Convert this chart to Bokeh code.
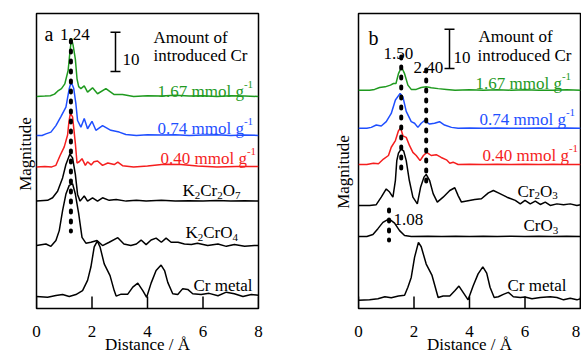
import math
from bokeh.plotting import figure
from bokeh.models import Range1d
from bokeh.layouts import row
from bokeh.core.properties import value
from bokeh.embed import file_html
from bokeh.resources import INLINE

# ---------------- data (panel a) ----------------
A_GREEN_X = [0, 0.3, 0.5, 0.65, 0.76, 0.9, 1.02, 1.14, 1.2, 1.26, 1.32, 1.40, 1.46, 1.52, 1.6, 1.72, 1.84, 2.02, 2.2, 2.5, 2.8, 3.1, 3.5, 4.0, 4.5, 5.0, 5.5, 6.0, 6.5, 7.0, 7.5, 8.0]
A_GREEN_Y = [0, 0.1, 0.2, 0.6, 1.35, 2.0, 3.2, 6.6, 11.0, 14.8, 13.0, 9.5, 4.5, 2.5, 2.0, 2.7, 1.1, 2.2, 0.7, 2.0, 0.5, 0.5, 0, 0.2, 0.1, 0.3, 0.1, 0.2, 0, 0.2, 0.1, 0]

A_BLUE_X = [0, 0.2, 0.34, 0.52, 0.70, 0.88, 1.06, 1.18, 1.25, 1.34, 1.42, 1.48, 1.6, 1.72, 1.84, 2.0, 2.14, 2.38, 2.68, 2.98, 3.22, 3.6, 4.0, 4.5, 5.0, 5.5, 6.0, 6.5, 7.0, 7.5, 8.0]
A_BLUE_Y = [0, 0, 0.4, 0.85, 2.5, 4.8, 7.2, 11.9, 13.6, 12.0, 8.0, 3.8, 2.1, 4.3, 1.7, 3.6, 1.3, 2.5, 1.3, 0.85, 0.25, 0, 0.2, 0.1, 0.2, 0, 0.1, 0.2, 0, 0.1, 0]

A_RED_X = [0, 0.3, 0.55, 0.7, 0.85, 1.0, 1.12, 1.17, 1.22, 1.30, 1.40, 1.46, 1.54, 1.64, 1.76, 1.84, 1.97, 2.07, 2.2, 2.38, 2.57, 2.8, 2.93, 3.1, 3.5, 4.0, 4.6, 5.2, 5.8, 6.5, 7.2, 8.0]
A_RED_Y = [0, 0.1, 0, 0.4, 2.9, 5.1, 8.1, 11.5, 13.6, 12.7, 6.0, 1.0, 1.3, 2.1, 0.4, 1.3, 0.5, 1.3, 1.5, 0.4, 1.0, 0.6, 1.2, 0.3, 0, 0.2, 0.7, 0.6, 0.2, 0, 0.1, 0.1]

A_K2CR2O7_X = [0, 0.4, 0.58, 0.76, 0.94, 1.06, 1.2, 1.30, 1.40, 1.48, 1.57, 1.72, 1.84, 2.02, 2.2, 2.38, 2.62, 2.87, 3.23, 3.6, 3.95, 4.5, 5.0, 5.5, 6.0, 6.5, 7.0, 7.5, 8.0]
A_K2CR2O7_Y = [0, 0.2, 0.85, 2.5, 5.9, 9.3, 11.9, 11.0, 6.8, 1.7, 0, 1.3, 0, 0.85, 0, 0.85, 0.2, 0.4, 0, 0.25, 0, 0.2, 0, 0.1, 0, 0.15, 0, 0.1, 0]

A_K2CRO4_X = [0, 0.34, 0.52, 0.70, 0.82, 0.94, 1.06, 1.18, 1.30, 1.40, 1.52, 1.64, 1.78, 1.96, 2.18, 2.38, 2.62, 2.93, 3.15, 3.4, 3.6, 3.77, 3.95, 4.13, 4.31, 4.5, 4.67, 4.85, 5.1, 5.33, 5.58, 5.8, 6.17, 6.54, 6.84, 7.13, 7.5, 7.85, 8.0]
A_K2CRO4_Y = [0, 0.4, -0.2, 1.3, 3.8, 8.9, 13.1, 15.3, 15.7, 13.1, 8.1, 2.1, 0.6, 0.85, 1.3, 0, 0.85, 2.0, 0.4, 0, 0.4, 1.4, 0.25, 1.4, 1.9, 0.85, 1.9, 0.85, 0.85, 0.4, 0.25, 0.6, 0, 0.4, -0.2, 0.25, -0.2, 0, 0]

A_CRMETAL_X = [0, 0.4, 0.7, 0.94, 1.18, 1.42, 1.66, 1.84, 1.96, 2.08, 2.19, 2.29, 2.44, 2.65, 2.80, 2.87, 3.05, 3.29, 3.47, 3.65, 3.83, 3.97, 4.13, 4.31, 4.49, 4.62, 4.73, 4.91, 5.09, 5.27, 5.45, 5.63, 5.93, 6.22, 6.54, 6.84, 7.13, 7.44, 7.74, 8.0]
A_CRMETAL_Y = [0, -0.2, 0.25, 0.5, 0, 0.5, 1.5, 4.1, 7.5, 12.6, 14.1, 12.6, 8.3, 5.3, 1.5, 0.1, 0.6, 0.6, 2.4, 3.4, 1.5, -0.2, 3.4, 6.6, 8.0, 6.5, 3.6, 0.7, 0.5, 2.0, 1.8, 0.7, 0.5, 0.8, 0.2, 1.1, 0.7, 0, 0.5, 0.3]

A_OFFSETS = [53.9, 44.0, 36.0, 27.3, 16.0, 3.05]

# ---------------- data (panel b) ----------------
B_GREEN_X = [0, 0.4, 0.58, 0.76, 0.96, 1.15, 1.26, 1.35, 1.44, 1.55, 1.66, 1.78, 1.9, 2.08, 2.26, 2.44, 2.62, 2.87, 3.17, 3.48, 4.0, 4.5, 5.0, 5.5, 6.0, 6.5, 7.0, 7.5, 8.0]
B_GREEN_Y = [0, 0, 0.2, 0.7, 0.85, 1.3, 1.7, 1.7, 4.2, 5.9, 4.2, 1.3, 0.2, 0.2, 0.7, 0.85, 0.6, 0.4, 0.2, 0, 0.1, 0, 0.1, 0, 0.1, 0, 0, 0.1, 0]

B_BLUE_X = [0, 0.3, 0.46, 0.64, 0.82, 1.0, 1.18, 1.33, 1.50, 1.60, 1.72, 1.9, 2.02, 2.14, 2.26, 2.38, 2.56, 2.74, 2.92, 3.1, 3.35, 3.59, 4.0, 4.5, 5.0, 5.5, 6.0, 6.5, 7.0, 7.5, 8.0]
B_BLUE_Y = [0, 0, 0.25, 0.85, 0.6, 1.7, 3.8, 7.2, 8.9, 8.0, 4.3, 1.7, 1.3, 0.25, 1.3, 2.0, 1.1, 1.3, 1.7, 0.85, 0.25, 0, 0.1, 0, 0.1, 0, 0.05, 0.1, 0, 0.1, 0]

B_RED_X = [0, 0.3, 0.54, 0.72, 0.9, 1.08, 1.18, 1.33, 1.44, 1.52, 1.60, 1.72, 1.84, 1.96, 2.08, 2.22, 2.34, 2.46, 2.62, 2.8, 2.98, 3.17, 3.29, 3.41, 3.59, 4.0, 4.5, 5.0, 5.5, 6.0, 6.5, 7.0, 7.5, 8.0]
B_RED_Y = [0, 0, 0.35, 0.2, 1.4, 2.3, 4.4, 6.1, 8.6, 9.3, 7.3, 6.9, 4.8, 3.1, 2.3, 1.0, 2.3, 3.1, 2.3, 2.5, 1.8, 1.2, 0.35, 0.6, 0, 0.1, 0, 0.1, 0, 0.1, 0, 0.1, 0, 0]

B_CR2O3_X = [0, 0.4, 0.64, 0.82, 1.0, 1.12, 1.24, 1.33, 1.38, 1.44, 1.54, 1.63, 1.72, 1.83, 1.96, 2.12, 2.24, 2.36, 2.44, 2.56, 2.69, 2.84, 3.05, 3.29, 3.47, 3.59, 3.71, 3.95, 4.19, 4.43, 4.68, 4.86, 5.04, 5.35, 5.65, 5.83, 6.0, 6.19, 6.37, 6.55, 6.73, 6.91, 7.15, 7.39, 7.63, 7.87, 8.0]
B_CR2O3_Y = [0, 0, 0.2, 2.1, 4.2, 3.4, 2.1, 6.4, 11.4, 13.3, 14.4, 13.8, 11.4, 6.4, 2.1, 0.4, 4.7, 7.2, 7.9, 6.4, 3.0, 0.85, 2.1, 3.8, 4.5, 2.5, 0.85, 1.2, 1.5, 1.7, 3.2, 3.8, 3.2, 2.1, 1.3, 0.4, 1.3, 0.4, 1.1, 0.25, 0.85, 0, 0.4, 0.2, 0.4, 0, 0.2]

B_CRO3_X = [0, 0.3, 0.52, 0.7, 0.88, 1.1, 1.3, 1.48, 1.66, 1.9, 2.5, 3.0, 3.5, 4.0, 4.5, 5.0, 5.5, 6.0, 6.5, 7.0, 7.5, 8.0]
B_CRO3_Y = [0, 0, 0.5, 2.0, 3.6, 4.5, 3.4, 1.5, 0.25, 0, 0.1, 0, 0.1, 0, 0.1, 0, 0.05, 0, 0.1, 0, 0.05, 0]

B_CRMETAL_X = [0, 0.4, 0.7, 0.95, 1.18, 1.44, 1.66, 1.78, 1.9, 2.02, 2.16, 2.26, 2.44, 2.65, 2.87, 3.05, 3.29, 3.47, 3.62, 3.8, 3.95, 4.13, 4.31, 4.48, 4.62, 4.74, 4.89, 5.04, 5.22, 5.4, 5.58, 5.83, 6.0, 6.25, 6.55, 6.91, 7.15, 7.39, 7.63, 7.87, 8.0]
B_CRMETAL_Y = [-0.4, -0.3, 0, 0.5, 0.25, 0.7, 0.85, 2.9, 5.4, 10.5, 14.3, 13.2, 8.8, 5.9, 0.3, 0.7, 0.7, 2.0, 3.2, 1.3, -0.3, 3.2, 6.3, 8.1, 6.5, 2.9, 0.3, 0.5, 1.1, 1.6, 0.5, 0.3, 0.4, 0, 0.3, 0.5, 0.3, -0.3, 0.1, -0.3, 0]

B_OFFSETS = [55.5, 45.8, 36.6, 26.2, 18.3, 2.5]

X_TICKS = [0, 2, 4, 6, 8]
X_TICK_LABELS = ["0", "2", "4", "6", "8"]
X_LABEL = "Distance / Å"
Y_LABEL = "Magnitude"
A_PEAK = [1.24]
B_PEAKS = [1.54, 2.44, 1.10]
B_PEAK_LABELS = ["1.50", "2.40", "1.08"]
AMOUNT_LABELS = ["1.67 mmol g", "0.74 mmol g", "0.40 mmol g"]

# ---------------- style ----------------
FONT = "Liberation Serif"
GREEN, BLUE, RED = "#1f9a1f", "#1f4fff", "#f51e1e"
COLORS = [GREEN, BLUE, RED, "black", "black", "black"]
XMAX, YMAX = 8.0, 75.0
TOP = 13
FRAME_W = 222
FRAME_H = 295
FIG_H = 354
PX_X = FRAME_W / XMAX
PX_Y = FRAME_H / YMAX
FS = 17
SMALL = 11

CW = {'0': .5, '1': .5, '2': .5, '3': .5, '4': .5, '5': .5, '6': .5, '7': .5, '8': .5, '9': .5,
      '.': .25, ' ': .25, 'm': .778, 'o': .5, 'l': .278, 'g': .5, 'K': .722, 'C': .667, 'r': .333,
      'O': .722, '-': .333, 'e': .444, 't': .278, 'a': .444}


def tw(s, size):
    return sum(CW.get(c, .5) for c in s) * size


def txt(p, x, y, s, color="black", fs=FS, align="left", angle=0.0):
    p.text(x=[x], y=[y], text=[s], text_font=value(FONT), text_font_size=value(f"{fs}px"),
           text_color=color, text_align=align, text_baseline="alphabetic", angle=angle,
           level="annotation")


def rich(p, x, y, parts, color="black", fs0=FS):
    cx = x
    for s, kind in parts:
        if kind == "n":
            fs, off = fs0, 0
        elif kind == "sub":
            fs, off = SMALL, -4.5
        else:
            fs, off = SMALL, 7
        txt(p, cx, y + off / PX_Y, s, color, fs)
        cx += tw(s, fs) / PX_X


def dy(py):
    return (TOP + FRAME_H - py) / PX_Y


def make_fig(width, bl, ylab_px, ylab_center_py, last_tick_shift):
    p = figure(width=width, height=FIG_H, output_backend="svg", toolbar_location=None,
               x_range=Range1d(0, XMAX), y_range=Range1d(0, YMAX),
               min_border_left=bl, min_border_right=width - bl - FRAME_W, min_border_top=TOP,
               min_border_bottom=FIG_H - TOP - FRAME_H)
    p.title = None
    p.xaxis.visible = False
    p.yaxis.visible = False
    p.background_fill_color = "white"
    p.border_fill_color = "white"
    p.outline_line_color = "black"
    p.outline_line_width = 1.5
    p.xgrid.grid_line_color = None
    p.ygrid.grid_line_color = None
    tick_len = 12 / PX_Y
    p.segment(x0=X_TICKS, y0=[0] * len(X_TICKS), x1=X_TICKS, y1=[tick_len] * len(X_TICKS),
              line_color="black", line_width=1.5)
    for i, (t, lab) in enumerate(zip(X_TICKS, X_TICK_LABELS)):
        shift = last_tick_shift if i == len(X_TICKS) - 1 else 0
        txt(p, t + shift / PX_X, dy(331), lab, align="center")
    txt(p, XMAX / 2, dy(343.5), X_LABEL, align="center")
    txt(p, ylab_px / PX_X, dy(ylab_center_py), Y_LABEL, align="center", angle=math.pi / 2)
    return p


def draw_curves(p, xs, ys, offsets):
    for x, y, off, c in zip(xs, ys, offsets, COLORS):
        p.line(x, [v + off for v in y], line_color=c, line_width=1.5)


def dotted(p, x, y0, y1):
    p.line([x, x], [y0, y1], line_color="black", line_width=4, line_dash="2 8", line_cap="round")


def scale_bar(p, x, y_bottom, length):
    cap = 5 / PX_X
    p.segment(x0=[x, x - cap, x - cap], y0=[y_bottom, y_bottom, y_bottom + length],
              x1=[x, x + cap, x + cap], y1=[y_bottom + length, y_bottom, y_bottom + length],
              line_color="black", line_width=1.5)


def dx(px, left):
    return (px - left) / PX_X


# ---------------- panel a ----------------
LA = 36
pa = make_fig(290, LA, 25 - LA, 153.5, 0)
draw_curves(pa, [A_GREEN_X, A_BLUE_X, A_RED_X, A_K2CR2O7_X, A_K2CRO4_X, A_CRMETAL_X],
            [A_GREEN_Y, A_BLUE_Y, A_RED_Y, A_K2CR2O7_Y, A_K2CRO4_Y, A_CRMETAL_Y], A_OFFSETS)
dotted(pa, A_PEAK[0], dy(40), dy(231))
scale_bar(pa, dx(115, LA), dy(71), 10)
rich(pa, dx(44, LA), dy(33.5), [("a", "n")], fs0=20)
rich(pa, dx(59.5, LA), dy(34), [("1.24", "n")])
rich(pa, dx(122, LA), dy(59), [("10", "n")])
rich(pa, dx(153, LA), dy(36.5), [("Amount of", "n")])
rich(pa, dx(153, LA), dy(54.5), [("introduced Cr", "n")])
for lab, px, py, c in zip(AMOUNT_LABELS, [157, 157, 160], [90.5, 128, 158], [GREEN, BLUE, RED]):
    rich(pa, dx(px, LA), dy(py), [(lab, "n"), ("-1", "sup")], c)
rich(pa, dx(182, LA), dy(190), [("K", "n"), ("2", "sub"), ("Cr", "n"), ("2", "sub"), ("O", "n"), ("7", "sub")])
rich(pa, dx(185, LA), dy(232), [("K", "n"), ("2", "sub"), ("CrO", "n"), ("4", "sub")])
rich(pa, dx(193, LA), dy(285), [("Cr metal", "n")])

# ---------------- panel b ----------------
LB = 68
OB = 290
pb = make_fig(291, LB, 343 - OB - LB, 171.5, -4.5)
draw_curves(pb, [B_GREEN_X, B_BLUE_X, B_RED_X, B_CR2O3_X, B_CRO3_X, B_CRMETAL_X],
            [B_GREEN_Y, B_BLUE_Y, B_RED_Y, B_CR2O3_Y, B_CRO3_Y, B_CRMETAL_Y], B_OFFSETS)
L = OB + LB
dotted(pb, B_PEAKS[0], dy(56), dy(170))
dotted(pb, B_PEAKS[1], dy(69), dy(183))
dotted(pb, B_PEAKS[2], dy(209), dy(240))
scale_bar(pb, dx(449, L), dy(68), 10)
rich(pb, dx(368, L), dy(37.5), [("b", "n")], fs0=20)
rich(pb, dx(383, L), dy(53), [(B_PEAK_LABELS[0], "n")])
rich(pb, dx(413, L), dy(67), [(B_PEAK_LABELS[1], "n")])
rich(pb, dx(393, L), dy(219), [(B_PEAK_LABELS[2], "n")])
rich(pb, dx(453, L), dy(57), [("10", "n")])
rich(pb, dx(478, L), dy(36), [("Amount of", "n")])
rich(pb, dx(477, L), dy(54.5), [("introduced Cr", "n")])
for lab, px, py, c in zip(AMOUNT_LABELS, [475, 479, 482], [83, 118.5, 155], [GREEN, BLUE, RED]):
    rich(pb, dx(px, L), dy(py), [(lab, "n"), ("-1", "sup")], c)
rich(pb, dx(517, L), dy(190.5), [("Cr", "n"), ("2", "sub"), ("O", "n"), ("3", "sub")])
rich(pb, dx(523, L), dy(225), [("CrO", "n"), ("3", "sub")])
rich(pb, dx(507, L), dy(285), [("Cr metal", "n")])

layout = row(pa, pb)
open("out.html", "w").write(file_html(layout, INLINE))
